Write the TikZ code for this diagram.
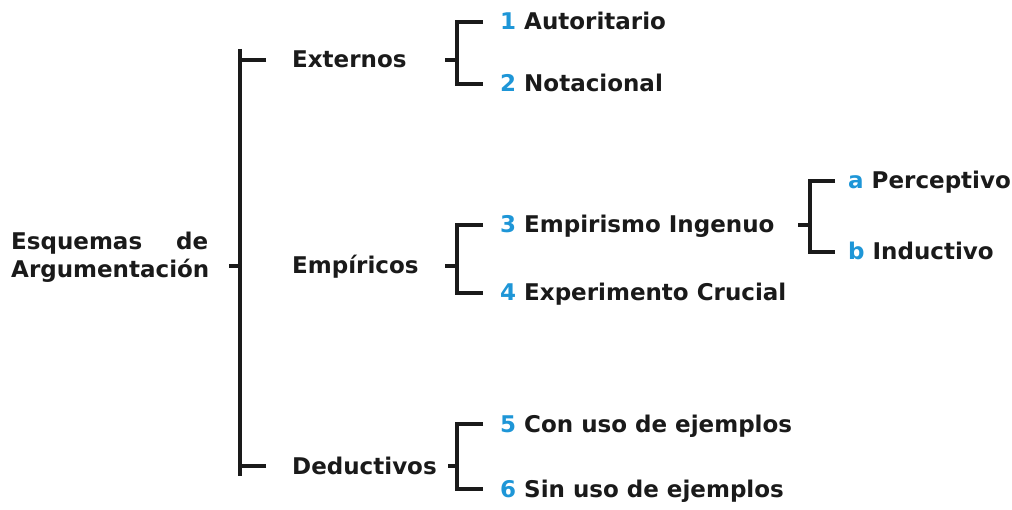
\documentclass[tikz,border=0pt]{standalone}
\usepackage{fontspec}
\setmainfont{DejaVu Sans}
\definecolor{numblue}{RGB}{30,150,215}
\definecolor{ink}{RGB}{26,26,26}
\newcommand{\bnum}[1]{\textcolor{numblue}{#1}}
\tikzset{
  brk/.style={line width=4pt, ink},
  lbl/.style={anchor=base west, inner sep=0pt, text=ink,
    font=\bfseries\fontsize{23}{28}\selectfont, text height=16pt, text depth=0pt}
}

\begin{document}
\begin{tikzpicture}[x=1pt, y=-1pt]
\useasboundingbox (0,0) rectangle (1012,510);

% spines of the brackets
\coordinate (s0) at (240,0);
\coordinate (s1) at (457,0);
\coordinate (s2) at (810,0);

\node[anchor=base west, inner sep=0pt, text=ink, align=left,
  font=\bfseries\fontsize{23}{28}\selectfont] (root) at (11,278)
  {\makebox[197pt][s]{Esquemas de}\\Argumentación};

\node[lbl] (ext) at (292,68) {Externos};
\node[lbl] (emp) at (292,274) {Empíricos};
\node[lbl] (ded) at (292,474) {Deductivos};

\node[lbl] (it1) at (500,30) {\bnum{1} Autoritario};
\node[lbl] (it2) at (500,92) {\bnum{2} Notacional};
\node[lbl] (it3) at (500,233) {\bnum{3} Empirismo Ingenuo};
\node[lbl] (it4) at (500,301) {\bnum{4} Experimento Crucial};
\node[lbl] (it5) at (500,432) {\bnum{5} Con uso de ejemplos};
\node[lbl] (it6) at (500,497) {\bnum{6} Sin uso de ejemplos};

\node[lbl] (ita) at (848,189) {\bnum{a} Perceptivo};
\node[lbl] (itb) at (848,260) {\bnum{b} Inductivo};

% main bracket
\draw[brk] ([yshift=11pt]ext.west -| s0) -- ([yshift=-10pt]ded.west -| s0);
\draw[brk] ([xshift=-26pt]ext.west) -- (ext.west -| s0);
\draw[brk] ([xshift=-26pt]ded.west) -- (ded.west -| s0);
\draw[brk] (emp.west -| s0) -- ++(-11,0);

% second level
\draw[brk] ([xshift=-17pt]it1.west) -- (it1.west -| s1) -- (it2.west -| s1) -- ([xshift=-17pt]it2.west);
\draw[brk] (ext.west -| s1) -- ++(-12,0);
\draw[brk] ([xshift=-17pt]it3.west) -- (it3.west -| s1) -- (it4.west -| s1) -- ([xshift=-17pt]it4.west);
\draw[brk] (emp.west -| s1) -- ++(-12,0);
\draw[brk] ([xshift=-17pt]it5.west) -- (it5.west -| s1) -- (it6.west -| s1) -- ([xshift=-17pt]it6.west);
\draw[brk] (ded.west -| s1) -- ++(-9,0);

% third level
\draw[brk] ([xshift=-13pt]ita.west) -- (ita.west -| s2) -- (itb.west -| s2) -- ([xshift=-13pt]itb.west);
\draw[brk] (it3.west -| s2) -- ++(-12,0);
\end{tikzpicture}
\end{document}
